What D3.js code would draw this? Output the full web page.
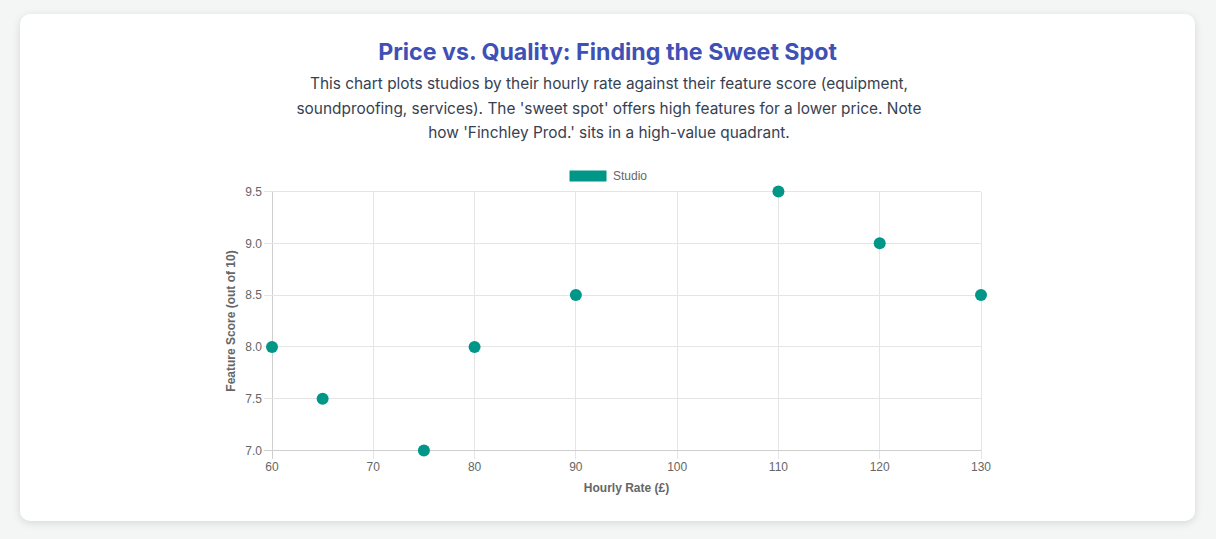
<!DOCTYPE html>
<html>
<head>
<meta charset="utf-8">
<script src="https://cdn.jsdelivr.net/npm/d3@7"></script>
<style>
  body { margin: 0; background: #f4f6f6; font-family: Inter, sans-serif; }
  .card { position: absolute; left: 20px; top: 14px; width: 1175px; height: 507px;
          background: #fff; border-radius: 10px; box-shadow: 0 2px 8px rgba(0,0,0,0.12); }
  h2 { position: absolute; top: 22px; left: 0; width: 100%; margin: 0; text-align: center;
       font-size: 23.2px; font-weight: 700; color: #3f51b5; line-height: 32px; }
  p.sub { position: absolute; top: 58px; left: 269px; width: 640px; margin: 0; text-align: center;
          font-size: 15.4px; line-height: 24.5px; color: #374151; }
  #viz { position: absolute; left: 0; top: 0; }
</style>
</head>
<body>
<div class="card">
  <h2>Price vs. Quality: Finding the Sweet Spot</h2>
  <p class="sub">This chart plots studios by their hourly rate against their feature score (equipment, soundproofing, services). The 'sweet spot' offers high features for a lower price. Note how 'Finchley Prod.' sits in a high-value quadrant.</p>
</div>
<div id="viz"></div>
<script>
const rates = [60, 65, 75, 80, 90, 110, 120, 130];
const scores = [8.0, 7.5, 7.0, 8.0, 8.5, 9.5, 9.0, 8.5];
const xTicks = [60, 70, 80, 90, 100, 110, 120, 130];
const yTicks = [7.0, 7.5, 8.0, 8.5, 9.0, 9.5];
const seriesName = "Studio";

const color = "#009688";
const plotL = 272, plotR = 981, plotT = 191.5, plotB = 450.5;

const svg = d3.select("#viz").append("svg")
    .attr("width", 1216)
    .attr("height", 539)
    .style("font-family", "'Liberation Sans', Arial, sans-serif");

const x = d3.scaleLinear().domain([60, 130]).range([plotL, plotR]);
const y = d3.scaleLinear().domain([7, 9.5]).range([plotB, plotT]);

// grid
svg.append("g").selectAll("line").data(xTicks).enter().append("line")
    .attr("x1", d => x(d)).attr("x2", d => x(d))
    .attr("y1", plotT).attr("y2", plotB + 8)
    .attr("stroke", d => d === 60 ? "#cfcfcf" : "#e5e5e5").attr("stroke-width", 1)
    .attr("shape-rendering", "crispEdges");
svg.append("g").selectAll("line").data(yTicks).enter().append("line")
    .attr("x1", plotL - 8).attr("x2", plotR)
    .attr("y1", d => y(d)).attr("y2", d => y(d))
    .attr("stroke", d => d === 7 ? "#cfcfcf" : "#e5e5e5").attr("stroke-width", 1)
    .attr("shape-rendering", "crispEdges");

// tick labels
svg.append("g").selectAll("text").data(yTicks).enter().append("text")
    .attr("x", plotL - 10).attr("y", d => y(d)).attr("dy", "0.35em")
    .attr("text-anchor", "end").attr("font-size", 12).attr("fill", "#666")
    .text(d => d.toFixed(1));
svg.append("g").selectAll("text").data(xTicks).enter().append("text")
    .attr("x", d => x(d)).attr("y", plotB + 16).attr("dy", "0.35em")
    .attr("text-anchor", "middle").attr("font-size", 12).attr("fill", "#666")
    .text(d => d);

// axis titles
svg.append("text")
    .attr("x", (plotL + plotR) / 2).attr("y", 488).attr("dy", "0.35em")
    .attr("text-anchor", "middle").attr("font-size", 12).attr("font-weight", "bold").attr("fill", "#666")
    .text("Hourly Rate (£)");
svg.append("text")
    .attr("transform", `translate(231,${(plotT + plotB) / 2}) rotate(-90)`)
    .attr("dy", "0.35em")
    .attr("text-anchor", "middle").attr("font-size", 12).attr("font-weight", "bold").attr("fill", "#666")
    .text("Feature Score (out of 10)");

// legend
svg.append("rect").attr("x", 569).attr("y", 170).attr("width", 38).attr("height", 12)
    .attr("fill", color).attr("stroke", "#fff").attr("stroke-width", 1);
svg.append("text").attr("x", 613).attr("y", 176).attr("dy", "0.35em")
    .attr("font-size", 12).attr("fill", "#666").text(seriesName);

// points
svg.append("g").selectAll("circle").data(rates).enter().append("circle")
    .attr("cx", d => x(d))
    .attr("cy", (d, i) => y(scores[i]))
    .attr("r", 6)
    .attr("fill", color);
</script>
</body>
</html>
